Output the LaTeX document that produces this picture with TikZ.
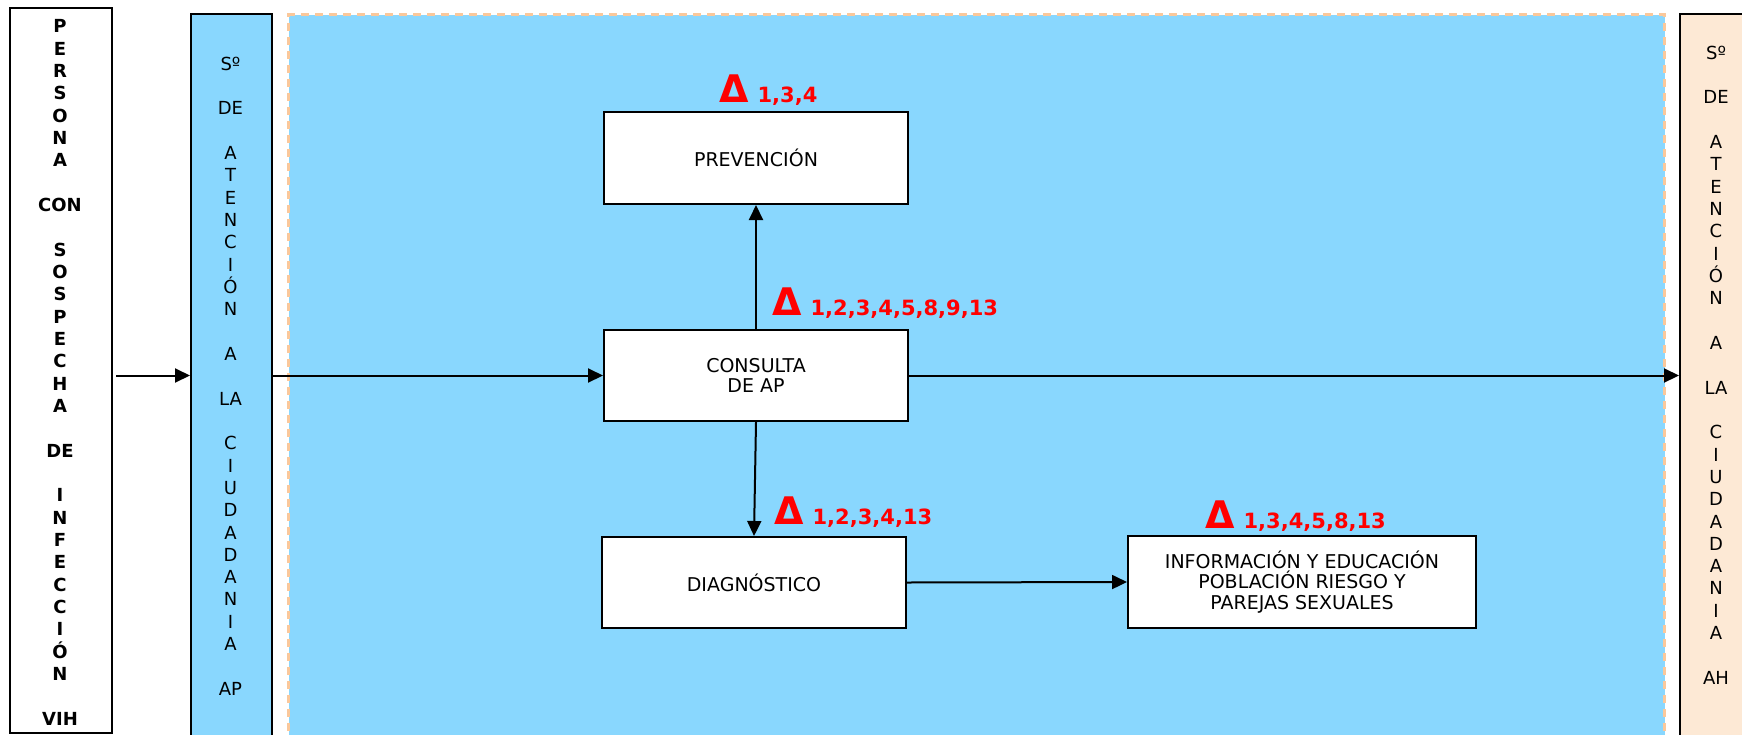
\documentclass[tikz,border=0pt]{standalone}
\usepackage{fontspec}
\setmainfont{DejaVu Sans}
\usetikzlibrary{arrows.meta}
\definecolor{skyfill}{RGB}{137,215,254}
\definecolor{peachfill}{RGB}{253,233,213}
\definecolor{peachline}{RGB}{250,200,155}
\begin{document}
\begin{tikzpicture}[x=1pt,y=-1pt,
  box/.style={draw=black,line width=2pt,fill=white,inner sep=0pt,align=center,
    font=\fontsize{19}{20.5}\selectfont},
  colbox/.style={draw=black,line width=2pt,inner sep=0pt,anchor=north west},
  coltext/.style={inner sep=0pt,align=center,anchor=north,
    font=\fontsize{18}{22.33}\selectfont},
  flow/.style={line width=2pt,-{Triangle[length=15pt,width=14pt]}},
  delta/.style={inner sep=0pt,anchor=base west,text=red,font=\bfseries}
]
\useasboundingbox (0,0) rectangle (1742,734);
\clip (0,0) rectangle (1742,734);

% process area
\node[draw=peachline,fill=skyfill,line width=3pt,dash pattern=on 8pt off 6pt,
  inner sep=0pt,anchor=north west,minimum width=1376pt,minimum height=740pt]
  (area) at (287,13) {};

% side columns
\node[colbox,fill=white,minimum width=102pt,minimum height=725pt] (persona) at (9,7) {};
\node[coltext,font=\fontsize{18}{22.33}\selectfont\bfseries] (personatxt) at (60,19.5)
  {P\\E\\R\\S\\O\\N\\A\\~\\CON\\~\\S\\O\\S\\P\\E\\C\\H\\A\\~\\DE\\~\\I\\N\\F\\E\\C\\C\\I\\Ó\\N\\~\\VIH};

\node[colbox,fill=skyfill,minimum width=81pt,minimum height=740pt] (atap) at (190,13) {};
\node[coltext] (ataptxt) at (230.5,56.5)
  {Sº\\~\\DE\\~\\A\\T\\E\\N\\C\\I\\Ó\\N\\~\\A\\~\\LA\\~\\C\\I\\U\\D\\A\\D\\A\\N\\I\\A\\~\\AP};

\node[colbox,fill=peachfill,minimum width=76pt,minimum height=740pt] (atah) at (1679,13) {};
\node[coltext] (atahtxt) at (1716,45.5)
  {Sº\\~\\DE\\~\\A\\T\\E\\N\\C\\I\\Ó\\N\\~\\A\\~\\LA\\~\\C\\I\\U\\D\\A\\D\\A\\N\\I\\A\\~\\AH};

% process boxes
\node[box,minimum width=304pt,minimum height=92pt] (prev) at (756,158) {PREVENCIÓN};
\node[box,minimum width=304pt,minimum height=91pt] (cons) at (756,375.5) {CONSULTA\\DE AP};
\node[box,minimum width=304pt,minimum height=91pt] (diag) at (754,582.5) {DIAGNÓSTICO};
\node[box,minimum width=348pt,minimum height=92pt] (info) at (1302,582)
  {INFORMACIÓN Y EDUCACIÓN\\POBLACIÓN RIESGO Y\\PAREJAS SEXUALES};

% connectors
\draw[flow,shorten <=3pt] (persona.east |- cons.west) -- (atap.west |- cons.west);
\draw[flow] (atap.east |- cons.west) -- (cons.west);
\draw[flow] (cons.east) -- (atah.west |- cons.east);
\draw[flow] (cons.north) -- (prev.south);
\draw[flow] (cons.south) -- (diag.north);
\draw[flow] (diag.east) -- (info.west);

% quality markers
\node[delta] (dprev) at (719,102)
  {\fontsize{38}{38}\selectfont Δ\hspace{9pt}\fontsize{21}{21}\selectfont 1,3,4};
\node[delta] (dcons) at (772,315)
  {\fontsize{38}{38}\selectfont Δ\hspace{9pt}\fontsize{21}{21}\selectfont 1,2,3,4,5,8,9,13};
\node[delta] (ddiag) at (774,524)
  {\fontsize{38}{38}\selectfont Δ\hspace{9pt}\fontsize{21}{21}\selectfont 1,2,3,4,13};
\node[delta] (dinfo) at (1205,528)
  {\fontsize{38}{38}\selectfont Δ\hspace{9pt}\fontsize{21}{21}\selectfont 1,3,4,5,8,13};
\end{tikzpicture}
\end{document}
